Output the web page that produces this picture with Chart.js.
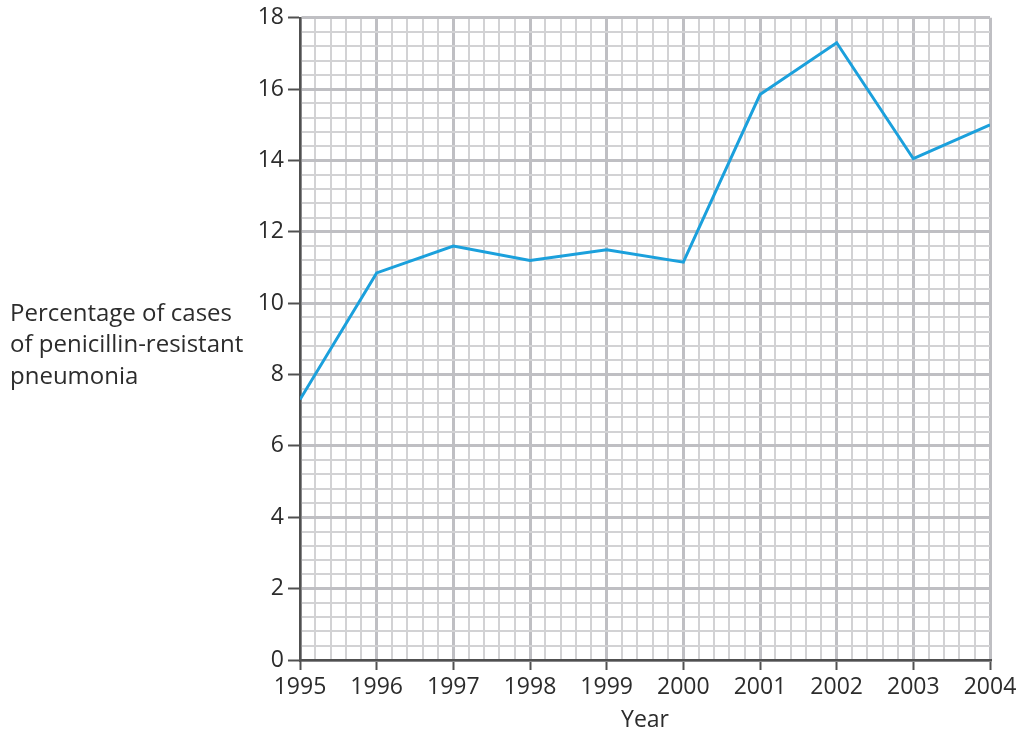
<!DOCTYPE html>
<html>
<head>
<meta charset="utf-8">
<script src="https://cdn.jsdelivr.net/npm/chart.js@4.4.1/dist/chart.umd.min.js"></script>
<style>
    html, body { margin: 0; padding: 0; background: #ffffff; }
    #wrap { width: 1019px; height: 734px; position: relative; }
</style>
</head>
<body>
<div id="wrap"><canvas id="resistChart"></canvas></div>
<script>
const years = [1995, 1996, 1997, 1998, 1999, 2000, 2001, 2002, 2003, 2004];
const percentages = [7.3, 10.85, 11.6, 11.2, 11.5, 11.15, 15.85, 17.3, 14.05, 15.0];
const yAxisTitle = ['Percentage of cases', 'of penicillin-resistant', 'pneumonia'];
const xAxisTitle = 'Year';

const textColor = '#2c2c2c';
const majorGrid = '#bfbfc3';
const minorGrid = '#d2d2d4';
const axisColor = '#505050';
const fontFamily = '"Open Sans", "Noto Sans", sans-serif';

const isWhole = (v, step) => Math.abs(v / step - Math.round(v / step)) < 1e-6;

const sideTitle = {
    id: 'sideTitle',
    afterDraw(chart) {
        const ctx = chart.ctx;
        ctx.save();
        ctx.fillStyle = textColor;
        ctx.font = '24px ' + fontFamily;
        ctx.textBaseline = 'middle';
        ctx.textAlign = 'left';
        yAxisTitle.forEach((line, i) => ctx.fillText(line, 10, 314 + i * 31.5));
        ctx.restore();
    }
};

new Chart(document.getElementById('resistChart'), {
    type: 'line',
    data: {
        datasets: [{
            data: years.map((year, i) => ({ x: year, y: percentages[i] })),
            borderColor: '#1ba0dc',
            borderWidth: 3,
            pointRadius: 0,
            tension: 0,
            fill: false
        }]
    },
    options: {
        responsive: true,
        maintainAspectRatio: false,
        animation: false,
        layout: { padding: { top: 17, right: 29, left: 0, bottom: 0 } },
        plugins: {
            legend: { display: false },
            tooltip: { enabled: false }
        },
        scales: {
            x: {
                type: 'linear',
                min: 1995,
                max: 2004,
                afterFit: scale => {
                    scale.height = 74;
                    scale.paddingLeft = 0;
                    scale.paddingRight = 0;
                },
                ticks: {
                    stepSize: 0.2,
                    autoSkip: false,
                    maxRotation: 0,
                    color: textColor,
                    font: { family: fontFamily, size: 23 },
                    padding: 4,
                    callback: v => isWhole(v, 1) ? String(Math.round(v)) : ''
                },
                grid: {
                    color: c => isWhole(c.tick.value, 1) ? majorGrid : minorGrid,
                    lineWidth: c => isWhole(c.tick.value, 1) ? 3 : 2,
                    tickColor: c => isWhole(c.tick.value, 1) ? axisColor : 'rgba(0,0,0,0)',
                    tickWidth: 2,
                    tickLength: 10
                },
                border: { display: true, color: axisColor, width: 2.5 },
                title: {
                    display: true,
                    text: xAxisTitle,
                    color: textColor,
                    font: { family: fontFamily, size: 23 },
                    padding: { top: 0, bottom: 0 }
                }
            },
            y: {
                min: 0,
                max: 18,
                afterFit: scale => { scale.width = 300; },
                ticks: {
                    stepSize: 0.4,
                    autoSkip: false,
                    maxTicksLimit: 1000,
                    color: textColor,
                    font: { family: fontFamily, size: 23 },
                    padding: 4,
                    callback: v => isWhole(v, 2) ? String(Math.round(v)) : ''
                },
                grid: {
                    color: c => isWhole(c.tick.value, 2) ? majorGrid : minorGrid,
                    lineWidth: c => isWhole(c.tick.value, 2) ? 3 : 2,
                    tickColor: c => isWhole(c.tick.value, 2) ? axisColor : 'rgba(0,0,0,0)',
                    tickWidth: 2,
                    tickLength: 12
                },
                border: { display: true, color: axisColor, width: 2.5 }
            }
        }
    },
    plugins: [sideTitle]
});
</script>
</body>
</html>
